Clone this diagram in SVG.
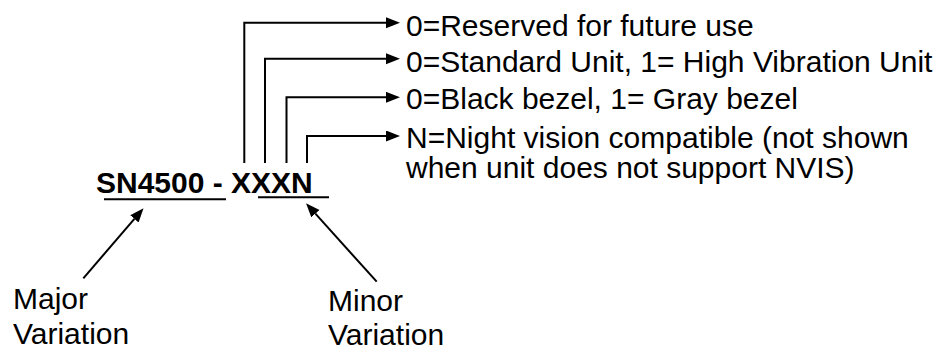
<svg xmlns="http://www.w3.org/2000/svg" width="948" height="352" viewBox="0 0 948 352">
<style>
text { font-family: "Liberation Sans", Arial, sans-serif; font-size: 30px; fill: #000; }
.b { font-weight: bold; }
.c { fill: none; stroke: #000; stroke-width: 2; }
</style>
<defs>
<marker id="ah" markerUnits="userSpaceOnUse" markerWidth="15" markerHeight="12" refX="0" refY="5.5" orient="auto">
<path d="M0,0 L14,5.5 L0,11 z" fill="#000"/>
</marker>
</defs>
<rect width="948" height="352" fill="#fff"/>
<g id="title">
<text class="b" x="96" y="193">SN4500 - XXXN</text>
<line class="c" x1="104" y1="199.3" x2="226" y2="199.3"/>
<line class="c" x1="258" y1="197.3" x2="329" y2="197.3"/>
</g>
<g id="desc1"><text x="406" y="35.5">0=Reserved for future use</text></g>
<g id="desc2"><text x="406" y="71.5">0=Standard Unit, 1= High Vibration Unit</text></g>
<g id="desc3"><text x="406" y="109">0=Black bezel, 1= Gray bezel</text></g>
<g id="desc4"><text x="406" y="147.5">N=Night vision compatible (not shown</text><text x="406" y="177.5">when unit does not support NVIS)</text></g>
<g id="major"><text x="13" y="309">Major</text><text x="13" y="344">Variation</text></g>
<g id="minor"><text x="328" y="311">Minor</text><text x="328" y="345">Variation</text></g>
<g id="connectors">
<path class="c" d="M244.3,163 V22.7 H386" marker-end="url(#ah)"/>
<path class="c" d="M265,163 V58.7 H386" marker-end="url(#ah)"/>
<path class="c" d="M286.5,163 V97.3 H386" marker-end="url(#ah)"/>
<path class="c" d="M307,163 V136 H386" marker-end="url(#ah)"/>
<line class="c" x1="83.3" y1="278.3" x2="134.4" y2="218.9" marker-end="url(#ah)"/>
<line class="c" x1="376.7" y1="281.7" x2="315.4" y2="213.7" marker-end="url(#ah)"/>
</g>
</svg>
